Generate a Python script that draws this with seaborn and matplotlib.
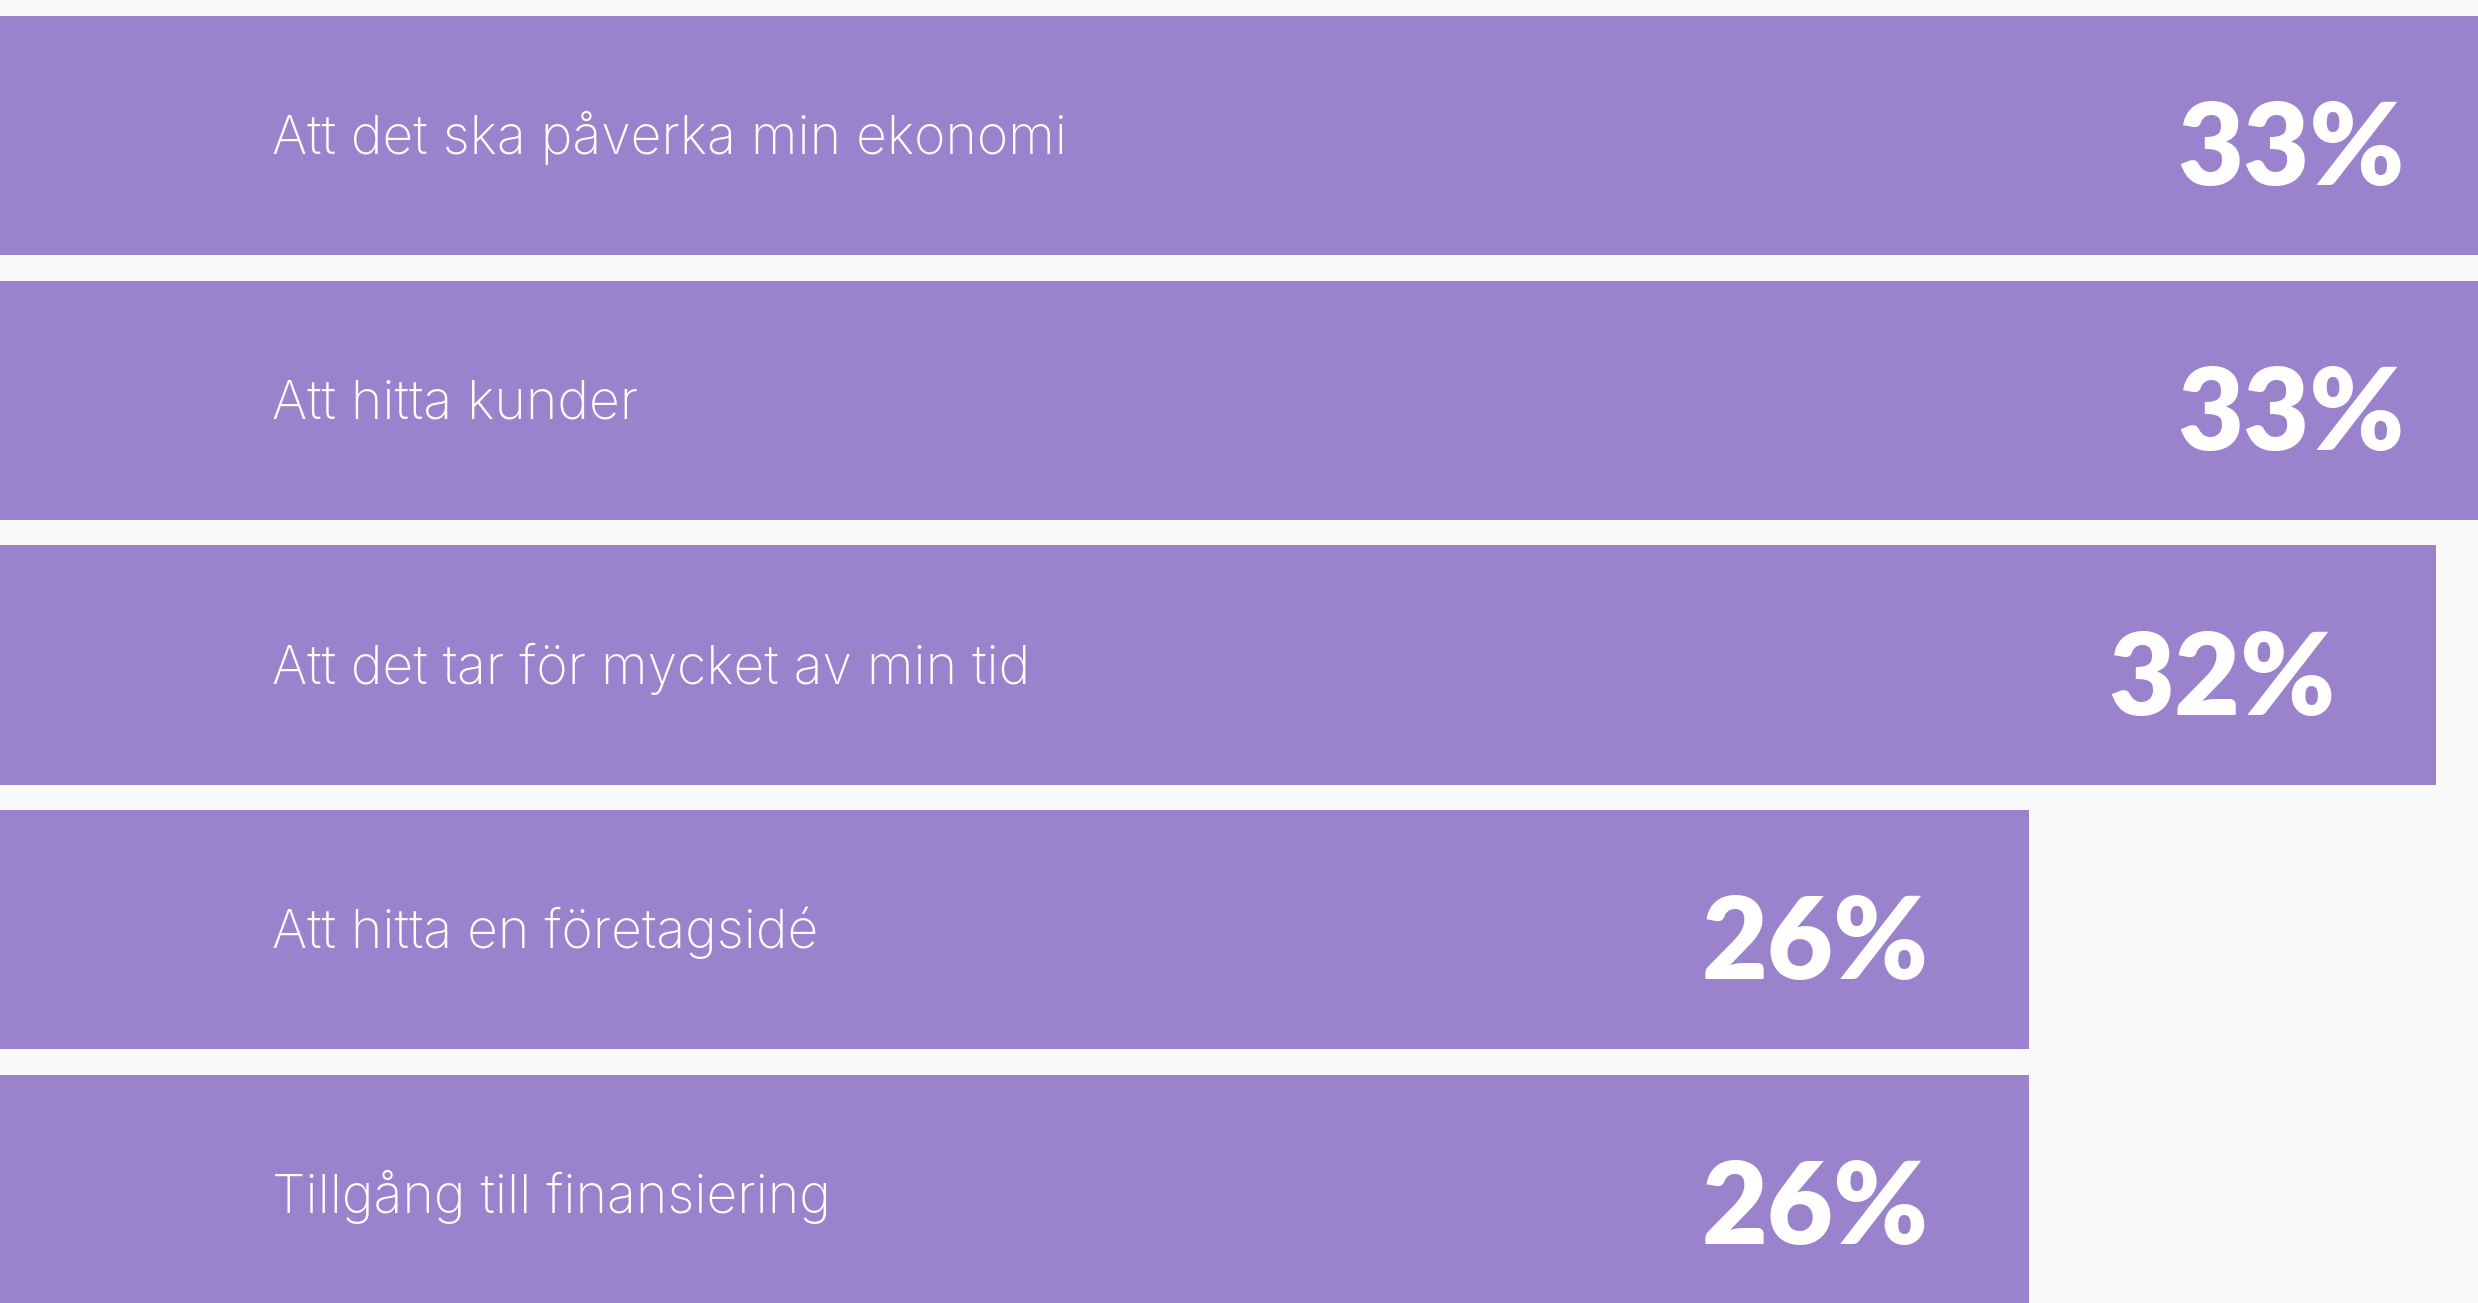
import matplotlib
matplotlib.use("Agg")
import matplotlib.pyplot as plt
import matplotlib.transforms as mtransforms
import seaborn as sns
import pandas as pd

# data
categories = [
    "Att det ska påverka min ekonomi",
    "Att hitta kunder",
    "Att det tar för mycket av min tid",
    "Att hitta en företagsidé",
    "Tillgång till finansiering",
]
values = [32.6, 32.6, 31.7, 26.4, 26.4]
value_labels = ["33%", "33%", "32%", "26%", "26%"]

BAR = "#9b82cc"
BG = "#f9f9f9"

sns.set_theme(style="white")
plt.rcParams["font.family"] = ["Inter", "DejaVu Sans"]

df = pd.DataFrame({"kategori": categories, "andel": values})

fig = plt.figure(figsize=(24.78, 13.03), dpi=100, facecolor=BG)
ax = fig.add_axes([0, 0, 1, 1])
ax.set_facecolor(BG)

sns.barplot(data=df, x="andel", y="kategori", orient="h", color=BAR,
            saturation=1, width=0.903, linewidth=0, ax=ax)

ax.set_xlim(0, 32.25)
ax.set_ylim(4.410, -0.512)
ax.axis("off")

trans = mtransforms.blended_transform_factory(ax.transAxes, ax.transData)
for i, (cat, v, lab) in enumerate(zip(categories, values, value_labels)):
    ax.annotate(cat, xy=(272 / 2478, i), xycoords=trans,
                xytext=(0, -18.5), textcoords="offset pixels",
                ha="left", va="baseline", color="white",
                fontsize=38.5, fontweight="light")
    ax.annotate(lab, xy=(v, i), xytext=(-100, -49.5),
                textcoords="offset pixels", ha="right", va="baseline",
                color="white", fontsize=82, fontweight="heavy",
                family=["Lato", "DejaVu Sans"], annotation_clip=False)

fig.savefig("out.png", dpi=100, facecolor=BG)
